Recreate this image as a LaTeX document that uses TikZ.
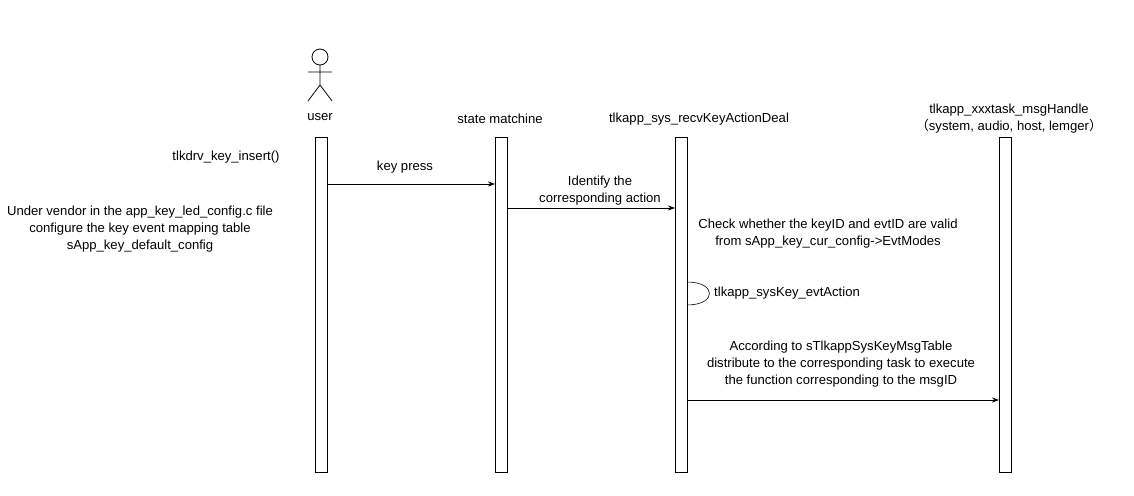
\documentclass[tikz,border=0pt]{standalone}
\usepackage{fontspec}
\setmainfont{Liberation Sans}
\newfontfamily\cjk{Noto Sans CJK SC}
\usetikzlibrary{arrows.meta}
\begin{document}
\begin{tikzpicture}[x=1pt,y=-1pt,
  life/.style={draw,fill=white,minimum width=12pt,inner sep=0pt},
  lbl/.style={font=\fontsize{13.1}{17}\selectfont,align=center,inner sep=0pt},
  msg/.style={-{Stealth[length=7pt,width=5pt]},line width=0.6pt}]
\useasboundingbox (0,0) rectangle (1134,495);
% actor
\draw[line width=0.8pt] (320,57) circle (8);
\draw[line width=0.8pt] (320,65) -- (320,85) (308,72) -- (332,72)
  (308,101) -- (320,85) -- (332,101);
\node[lbl] (u) at (320,117) {user};
\node[lbl] (s) at (500,119) {state matchine};
\node[lbl] (r) at (699,119) {tlkapp\_sys\_recvKeyActionDeal};
\node[lbl] (t) at (1009,119) {tlkapp\_xxxtask\_msgHandle\\{\cjk （}system, audio, host, lemger{\cjk ）}};
\node[life,minimum height=335pt] (L1) at (321,304.5) {};
\node[life,minimum height=335pt] (L2) at (501,304.5) {};
\node[life,minimum height=335pt] (L3) at (681,304.5) {};
\node[life,minimum height=335pt] (L4) at (1005,304.5) {};
\node[lbl] (ki) at (226,157) {tlkdrv\_key\_insert()};
\node[lbl] (cfg) at (140,229) {Under vendor in the app\_key\_led\_config.c file\\configure the key event mapping table\\sApp\_key\_default\_config};
\coordinate (a1) at (327,184); \coordinate (b1) at (495,184);
\draw[msg] (a1) -- (b1);
\node[lbl] (kp) at (405,167) {key press};
\coordinate (a2) at (507,208); \coordinate (b2) at (675,208);
\draw[msg] (a2) -- (b2);
\node[lbl] (id) at (600,191) {Identify the\\corresponding action};
\node[lbl] (ck) at (828,233.5) {Check whether the keyID and evtID are valid\\from sApp\_key\_cur\_config->EvtModes};
\coordinate (a3) at (687,282); \coordinate (b3) at (687,305);
\draw[line width=0.6pt] (a3) .. controls (717,282) and (717,305) .. (b3);
\node[lbl,anchor=west] (ea) at (714,293) {tlkapp\_sysKey\_evtAction};
\node[lbl] (ac) at (841,364) {According to sTlkappSysKeyMsgTable\\distribute to the corresponding task to execute\\the function corresponding to the msgID};
\coordinate (a4) at (687,400); \coordinate (b4) at (999,400);
\draw[msg] (a4) -- (b4);
\end{tikzpicture}
\end{document}
